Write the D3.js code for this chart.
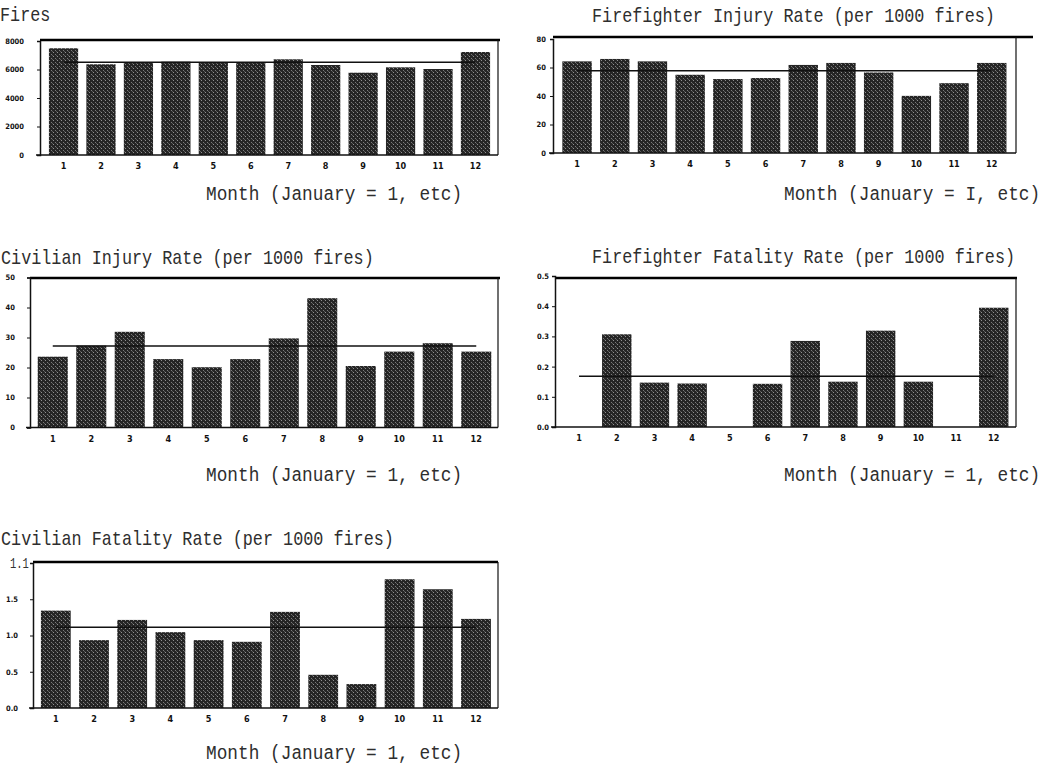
<!DOCTYPE html>
<html>
<head>
<meta charset="utf-8">
<script src="https://cdn.jsdelivr.net/npm/d3@7"></script>
<style>
  html, body { margin: 0; padding: 0; background: #fff; }
  svg { display: block; }
</style>
</head>
<body>
<svg id="chart" width="1052" height="774"></svg>
<script>
// ---------------- DATA ----------------
const months = [1, 2, 3, 4, 5, 6, 7, 8, 9, 10, 11, 12];

const firesValues = [7490, 6365, 6505, 6548, 6505, 6526, 6716, 6316, 5775, 6154, 6035, 7228];
const firesAverage = 6510;
const firesTicks = [0, 2000, 4000, 6000, 8000];
const firesTickLabels = ["0", "2000", "4000", "6000", "8000"];

const ffInjuryValues = [64.3, 66.0, 64.3, 54.9, 51.9, 52.6, 61.8, 63.2, 56.5, 40.1, 49.0, 63.2];
const ffInjuryAverage = 57.7;
const ffInjuryTicks = [0, 20, 40, 60, 80];
const ffInjuryTickLabels = ["0", "20", "40", "60", "80"];

const civInjuryValues = [23.6, 27.3, 31.9, 22.8, 20.1, 22.8, 29.7, 43.1, 20.5, 25.3, 28.1, 25.3];
const civInjuryAverage = 27.2;
const civInjuryTicks = [0, 10, 20, 30, 40, 50];
const civInjuryTickLabels = ["0", "10", "20", "30", "40", "50"];

const ffFatalityValues = [0, 0.307, 0.147, 0.144, 0, 0.143, 0.285, 0.150, 0.319, 0.150, 0, 0.395];
const ffFatalityAverage = 0.168;
const ffFatalityTicks = [0, 0.1, 0.2, 0.3, 0.4, 0.5];
const ffFatalityTickLabels = ["0.0", "0.1", "0.2", "0.3", "0.4", "0.5"];

const civFatalityValues = [1.343, 0.936, 1.215, 1.046, 0.936, 0.913, 1.326, 0.458, 0.330, 1.776, 1.638, 1.229];
const civFatalityAverage = 1.115;
const civFatalityTicks = [0, 0.5, 1.0, 1.5, 2.0];
const civFatalityTickLabels = ["0.0", "0.5", "1.0", "1.5", "1.1"];

const titles = [
  "Fires",
  "Firefighter Injury Rate (per 1000 fires)",
  "Civilian Injury Rate (per 1000 fires)",
  "Firefighter Fatality Rate (per 1000 fires)",
  "Civilian Fatality Rate (per 1000 fires)"
];
const xTitles = [
  "Month (January = 1, etc)",
  "Month (January = I, etc)",
  "Month (January = 1, etc)",
  "Month (January = 1, etc)",
  "Month (January = 1, etc)"
];

// ---------------- LAYOUT ----------------
const panels = [
  { values: firesValues, avg: firesAverage, ticks: firesTicks, tickLabels: firesTickLabels,
    axisX: 40, rightX: 498, topEnd: 500, frameTop: 40, zeroY: 155, maxY: 41,
    band: [44.8, 494.2], labelGap: 13, titleX: 0, titleY: 21, xTitleX: 206, xTitleY: 200 },
  { values: ffInjuryValues, avg: ffInjuryAverage, ticks: ffInjuryTicks, tickLabels: ffInjuryTickLabels,
    axisX: 553, rightX: 1016, topEnd: 1033, frameTop: 37, zeroY: 153, maxY: 39,
    band: [558.2, 1010.6], labelGap: 4, titleX: 592, titleY: 22, xTitleX: 784, xTitleY: 200 },
  { values: civInjuryValues, avg: civInjuryAverage, ticks: civInjuryTicks, tickLabels: civInjuryTickLabels,
    axisX: 30, rightX: 498, topEnd: 500, frameTop: 278, zeroY: 427.5, maxY: 277.5,
    band: [33.5, 495.5], labelGap: 12, titleX: 1, titleY: 264, xTitleX: 206, xTitleY: 481 },
  { values: ffFatalityValues, avg: ffFatalityAverage, ticks: ffFatalityTicks, tickLabels: ffFatalityTickLabels,
    axisX: 555, rightX: 1016, topEnd: 1017, frameTop: 278, zeroY: 427, maxY: 276,
    band: [560.2, 1012.6], labelGap: 3, titleX: 592, titleY: 263, xTitleX: 784, xTitleY: 481 },
  { values: civFatalityValues, avg: civFatalityAverage, ticks: civFatalityTicks, tickLabels: civFatalityTickLabels,
    axisX: 33, rightX: 498, topEnd: 498, frameTop: 562, zeroY: 708, maxY: 563,
    band: [36.7, 495.1], labelGap: 12, titleX: 1, titleY: 545, xTitleX: 206, xTitleY: 759, bigTop: true }
];

const svg = d3.select("#chart");
const defs = svg.append("defs");
const pat = defs.append("pattern").attr("id", "stipple")
  .attr("width", 4).attr("height", 4).attr("patternUnits", "userSpaceOnUse");
pat.append("rect").attr("width", 4).attr("height", 4).attr("fill", "#252525");
pat.append("rect").attr("x", 1).attr("y", 0).attr("width", 1).attr("height", 1).attr("fill", "#909090");
pat.append("rect").attr("x", 3).attr("y", 2).attr("width", 1).attr("height", 1).attr("fill", "#7a7a7a");
pat.append("rect").attr("x", 0).attr("y", 3).attr("width", 1).attr("height", 1).attr("fill", "#5a5a5a");

const monoFont = "'Liberation Mono', 'DejaVu Sans Mono', monospace";
const tinyFont = "'Liberation Sans Narrow', 'DejaVu Sans Condensed', sans-serif";

function stretchedText(g, x, y, size, str) {
  return g.append("text")
    .attr("transform", `translate(${x},${y}) scale(1,1.18)`)
    .attr("font-family", monoFont).attr("font-size", size).attr("fill", "#2e2e2e")
    .text(str);
}

panels.forEach((p, i) => {
  const g = svg.append("g");
  const yMax = p.ticks[p.ticks.length - 1];
  const y = d3.scaleLinear().domain([0, yMax]).range([p.zeroY, p.maxY]);
  const x = d3.scaleBand().domain(months).range(p.band).paddingInner(0.22).paddingOuter(0.11);

  // bars
  g.selectAll("rect.bar").data(p.values).join("rect")
    .attr("class", "bar")
    .attr("x", (d, k) => x(months[k]))
    .attr("width", x.bandwidth())
    .attr("y", d => y(d))
    .attr("height", d => y(0) - y(d))
    .attr("fill", "url(#stipple)");

  // average line
  g.append("line")
    .attr("x1", x(months[0]) + x.bandwidth() / 2)
    .attr("x2", x(months[11]) + x.bandwidth() / 2)
    .attr("y1", y(p.avg)).attr("y2", y(p.avg))
    .attr("stroke", "#111").attr("stroke-width", 1.5);

  // frame
  g.append("line").attr("x1", p.axisX).attr("x2", p.topEnd)
    .attr("y1", p.frameTop).attr("y2", p.frameTop)
    .attr("stroke", "#000").attr("stroke-width", 2.5);
  g.append("line").attr("x1", p.rightX).attr("x2", p.rightX)
    .attr("y1", p.frameTop).attr("y2", p.zeroY)
    .attr("stroke", "#111").attr("stroke-width", 1.2);
  g.append("line").attr("x1", p.axisX - 4).attr("x2", p.rightX)
    .attr("y1", p.zeroY).attr("y2", p.zeroY)
    .attr("stroke", "#111").attr("stroke-width", 1.5);

  // y axis
  const yAxis = d3.axisLeft(y).tickValues(p.ticks).tickSize(3).tickPadding(p.labelGap)
    .tickFormat((d, k) => p.tickLabels[k]);
  const ya = g.append("g").attr("transform", `translate(${p.axisX},0)`).call(yAxis);
  ya.select(".domain").attr("stroke", "#111").attr("stroke-width", 1.5);
  ya.selectAll(".tick line").attr("stroke", "#111");
  ya.selectAll(".tick text")
    .attr("font-family", tinyFont).attr("font-size", 7.5).attr("font-weight", "bold").attr("fill", "#111");
  if (p.bigTop) {
    ya.selectAll(".tick text").filter((d, k) => k === p.ticks.length - 1)
      .attr("x", -23).attr("text-anchor", "start")
      .attr("transform", "scale(1,1.4)")
      .attr("font-family", monoFont).attr("font-size", 10.5).attr("font-weight", "normal")
      .attr("fill", "#333");
  }

  // x axis labels
  const xAxis = d3.axisBottom(x).tickSize(0).tickPadding(8);
  const xa = g.append("g").attr("transform", `translate(0,${p.zeroY})`).call(xAxis);
  xa.select(".domain").remove();
  xa.selectAll(".tick text")
    .attr("font-family", tinyFont).attr("font-size", 9).attr("font-weight", "bold").attr("fill", "#111");

  // titles
  stretchedText(g, p.titleX, p.titleY, 16.8, titles[i]);
  stretchedText(g, p.xTitleX, p.xTitleY, 17.8, xTitles[i]);
});
</script>
</body>
</html>
